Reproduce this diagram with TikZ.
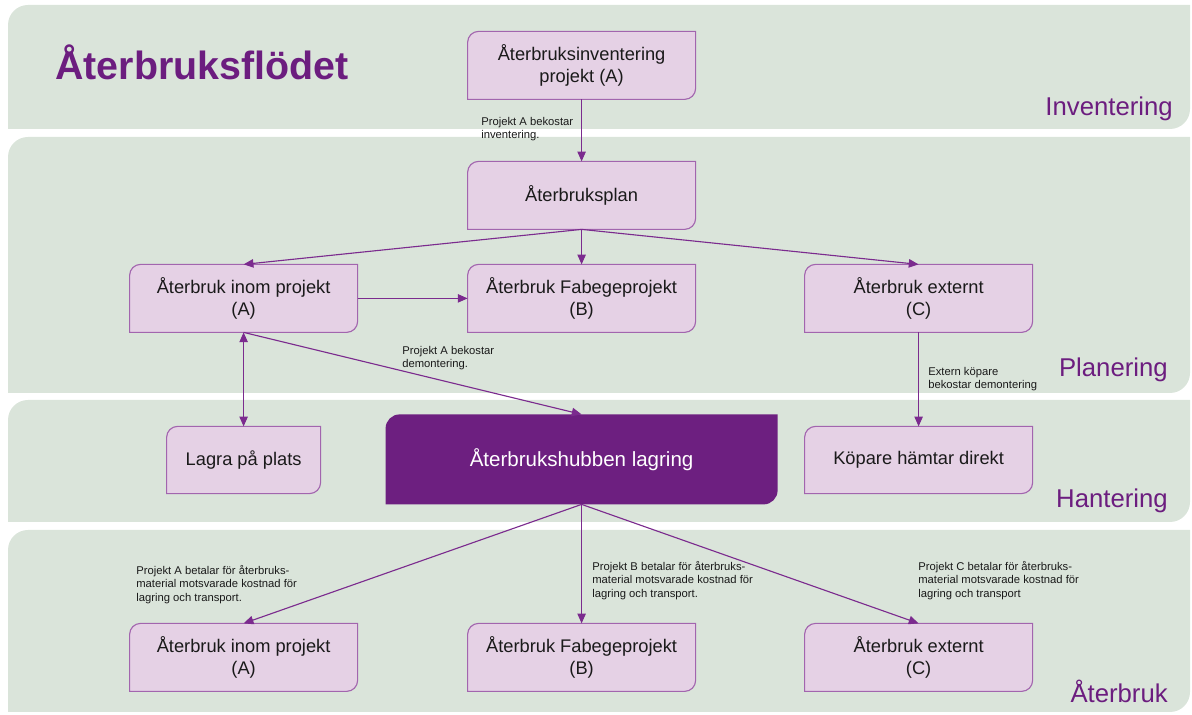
\documentclass[tikz,border=0pt]{standalone}
\usepackage{fontspec}
\setmainfont{Liberation Sans}
\usetikzlibrary{arrows.meta, positioning}

\definecolor{bandgreen}{HTML}{DAE4DA}
\definecolor{boxfill}{HTML}{E5D1E5}
\definecolor{boxline}{HTML}{A265AE}
\definecolor{hubpurple}{HTML}{6D1F80}
\definecolor{arrowpurple}{HTML}{7B2B8E}
\definecolor{titlepurple}{HTML}{6C1D7F}
\definecolor{textdark}{HTML}{1A1A1A}

\pgfdeclarelayer{bandlayer}
\pgfdeclarelayer{boxlayer}
\pgfsetlayers{bandlayer,boxlayer,main}

% box with rounded top left and bottom right corner
\newcommand{\tabbox}[3]{%
  \path[#3] (#1.south west) -- ([yshift=-#2]#1.north west)
    arc[start angle=180, end angle=90, radius=#2] -- (#1.north east)
    -- ([yshift=#2]#1.south east)
    arc[start angle=0, end angle=-90, radius=#2] -- cycle;}

\begin{document}
\begin{tikzpicture}[
  flowbox/.style={minimum width=5.7cm, minimum height=1.7cm, align=center, outer sep=0pt,
    text=textdark, font=\fontsize{13}{15.5}\selectfont},
  hubbox/.style={minimum width=9.8cm, minimum height=2.25cm, align=center, outer sep=0pt,
    text=white, font=\fontsize{14.6}{17}\selectfont},
  band/.style={minimum width=29.55cm, inner sep=0pt, outer sep=0pt},
  bandlabel/.style={anchor=base east, inner sep=0pt, text=titlepurple, font=\fontsize{18.3}{20}\selectfont},
  note/.style={anchor=north west, align=left, inner sep=0pt, text=textdark,
    font=\fontsize{8}{9.6}\selectfont},
  flow/.style={draw=arrowpurple, line width=0.8pt, -{Triangle[length=7pt,width=6pt]}}]
  \useasboundingbox (0,0) rectangle (29.8,17.875);

  % Bands
  \node (bandinv) [band, minimum height=3.1cm] at (14.975,16.2) {};
  \node (bandplan) [band, minimum height=6.4cm] at (14.975,11.25) {};
  \node (bandhant) [band, minimum height=3.05cm] at (14.975,6.35) {};
  \node (bandater) [band, minimum height=4.55cm] at (14.975,2.35) {};

  \node (title) [anchor=base west, inner sep=0pt, text=titlepurple, font=\fontsize{28}{32}\selectfont\bfseries]
    at (1.375,15.875) {Återbruksflödet};
  \node (lblinv) [bandlabel] at (29.325,14.975) {Inventering};
  \node (lblplan) [bandlabel] at (29.2,8.45) {Planering};
  \node (lblhant) [bandlabel] at (29.2,5.175) {Hantering};
  \node (lblater) [bandlabel] at (29.2,0.3) {Återbruk};

  % Planning
  \node (inv) [flowbox] at (14.54,16.24) {Återbruksinventering\\projekt (A)};
  \node (plan) [flowbox, below=1.55cm of inv] {Återbruksplan};
  \node (Btop) [flowbox, below=0.875cm of plan] {Återbruk Fabegeprojekt\\(B)};
  \node (Atop) [flowbox, left=2.75cm of Btop] {Återbruk inom projekt\\(A)};
  \node (Ctop) [flowbox, right=2.725cm of Btop] {Återbruk externt\\(C)};

  % Handling
  \node (lagra) [flowbox, minimum width=3.85cm, minimum height=1.68cm, below=2.35cm of Atop] {Lagra på plats};
  \node (hub) [hubbox, below=2.05cm of Btop] {Återbrukshubben lagring};
  \node (kop) [flowbox, minimum height=1.68cm, below=2.35cm of Ctop] {Köpare hämtar direkt};

  % Reuse
  \node (Bbot) [flowbox, below=2.975cm of hub] {Återbruk Fabegeprojekt\\(B)};
  \node (Abot) [flowbox, left=2.75cm of Bbot] {Återbruk inom projekt\\(A)};
  \node (Cbot) [flowbox, right=2.725cm of Bbot] {Återbruk externt\\(C)};

  % Notes
  \node (noteinv) [note] at (12.025,14.95) {Projekt A bekostar\\inventering.};
  \node (notedem) [note] at (10.05,9.225) {Projekt A bekostar\\demontering.};
  \node (noteext) [note] at (23.2,8.7) {Extern köpare\\bekostar demontering};
  \node (noteA) [note] at (3.4,3.75) {Projekt A betalar för återbruks-\\material motsvarade kostnad för\\lagring och transport.};
  \node (noteB) [note] at (14.8,3.85) {Projekt B betalar för återbruks-\\material motsvarade kostnad för\\lagring och transport.};
  \node (noteC) [note] at (22.95,3.85) {Projekt C betalar för återbruks-\\material motsvarade kostnad för\\lagring och transport};

  % Shapes behind the text
  \begin{pgfonlayer}{bandlayer}
    \foreach \b in {bandinv,bandplan,bandhant,bandater}
      {\tabbox{\b}{0.5cm}{fill=bandgreen}}
  \end{pgfonlayer}
  \begin{pgfonlayer}{boxlayer}
    \foreach \n in {inv,plan,Atop,Btop,Ctop,lagra,kop,Abot,Bbot,Cbot}
      {\tabbox{\n}{0.275cm}{draw=boxline, fill=boxfill, line width=0.8pt}}
    \tabbox{hub}{0.35cm}{fill=hubpurple}
  \end{pgfonlayer}

  % Connectors
  \draw[flow] (inv) -- (plan);
  \draw[flow] (plan.south) -- (Atop.north);
  \draw[flow] (plan.south) -- (Btop.north);
  \draw[flow] (plan.south) -- (Ctop.north);
  \draw[flow] (Atop) -- (Btop);
  \draw[flow, {Triangle[length=7pt,width=6pt]}-{Triangle[length=7pt,width=6pt]}] (Atop.south) -- (lagra.north);
  \draw[flow] (Atop.south) -- (hub.north);
  \draw[flow] (Ctop) -- (kop);
  \draw[flow] (hub.south) -- (Abot.north);
  \draw[flow] (hub.south) -- (Bbot.north);
  \draw[flow] (hub.south) -- (Cbot.north);
\end{tikzpicture}
\end{document}
